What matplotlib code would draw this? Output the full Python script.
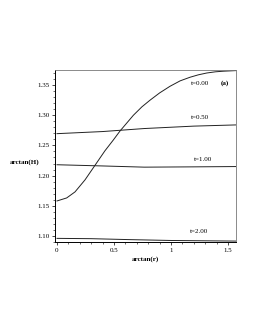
import numpy as np
import matplotlib
matplotlib.use('Agg')
import matplotlib.pyplot as plt
from matplotlib.ticker import MultipleLocator

plt.rcParams['font.family'] = ['Liberation Serif', 'DejaVu Serif']

# кривые arctan(H) от arctan(r)
x_t0 = [0.0, 0.085, 0.158, 0.246, 0.333, 0.42, 0.494, 0.553, 0.67, 0.745, 0.816, 0.9, 0.991, 1.08, 1.167, 1.24, 1.313, 1.39, 1.46, 1.571]
y_t0 = [1.158, 1.163, 1.173, 1.193, 1.217, 1.241, 1.259, 1.274, 1.300, 1.314, 1.325, 1.337, 1.348, 1.357, 1.363, 1.367, 1.370, 1.372, 1.373, 1.374]
x_t05 = [0.0, 0.4, 0.766, 1.2, 1.571]
y_t05 = [1.2695, 1.273, 1.278, 1.282, 1.284]
x_t1 = [0.0, 0.4, 0.766, 1.2, 1.571]
y_t1 = [1.218, 1.216, 1.214, 1.2145, 1.215]
x_t2 = [0.0, 0.3, 0.62, 1.0, 1.571]
y_t2 = [1.096, 1.0955, 1.094, 1.0925, 1.0915]

labels = ['t=0.00', 't=0.50', 't=1.00', 't=2.00']
label_pos = [(1.254, 1.352), (1.254, 1.297), (1.28, 1.227), (1.246, 1.108)]

fig = plt.figure(figsize=(2.55, 3.3), dpi=100)
ax = fig.add_axes([0.2157, 0.2667, 0.7098, 0.5212])

for xs, ys in [(x_t0, y_t0), (x_t05, y_t05), (x_t1, y_t1), (x_t2, y_t2)]:
    ax.plot(xs, ys, color='#222222', lw=0.7)

for lab, (lx, ly) in zip(labels, label_pos):
    ax.text(lx, ly, lab, fontsize=5, ha='center', va='center')
ax.text(1.474, 1.354, '(a)', fontsize=5, ha='center', va='center', fontweight='bold')

ax.set_xlim(-0.0175, 1.570)
ax.set_ylim(1.09, 1.375)
ax.xaxis.set_major_locator(MultipleLocator(0.5))
ax.xaxis.set_minor_locator(MultipleLocator(0.1))
ax.yaxis.set_major_locator(MultipleLocator(0.05))
ax.yaxis.set_minor_locator(MultipleLocator(0.01))
ax.set_xticks([0, 0.5, 1, 1.5])
ax.set_xticklabels(['0', '0.5', '1', '1.5'])
ax.tick_params(which='major', length=2.5, width=0.5, labelsize=5, pad=1.5)
ax.tick_params(which='minor', length=1.5, width=0.4)
for s in ['top', 'right']:
    ax.spines[s].set_color('#777777')
    ax.spines[s].set_linewidth(0.6)
for s in ['left', 'bottom']:
    ax.spines[s].set_linewidth(0.7)

ax.set_xlabel('arctan(r)', fontsize=5, fontweight='bold', labelpad=4)
ax.set_ylabel('arctan(H)', fontsize=5, fontweight='bold', rotation=0, labelpad=0)
ax.yaxis.set_label_coords(-0.17, 0.45)
ax.xaxis.set_label_coords(0.5, -0.085)

fig.savefig('out.png', dpi=100)
